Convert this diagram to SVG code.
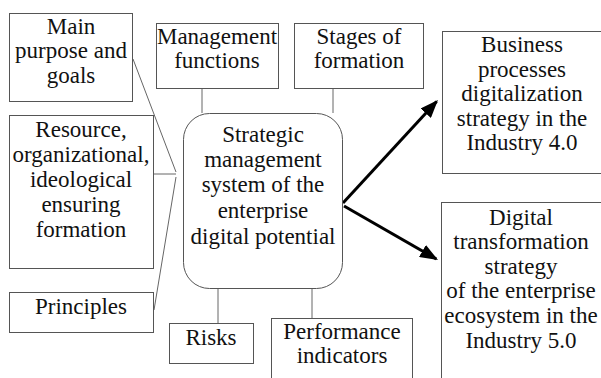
<svg xmlns="http://www.w3.org/2000/svg" width="601" height="378" viewBox="0 0 601 378">
  <style>
    .box { fill: #fff; stroke: #555; stroke-width: 1; }
    .link { fill: none; stroke: #666; stroke-width: 1; }
    .arrow { fill: none; stroke: #000; stroke-width: 3; }
    .lbl { fill: #111; text-anchor: middle; font-family: 'Liberation Serif', serif !important; font-size: 23px; }
  </style>
  <defs>
    <marker id="head" markerUnits="userSpaceOnUse" markerWidth="18" markerHeight="14" refX="16" refY="7" orient="auto">
      <path d="M0,0 L18,7 L0,14 z" fill="#000"/>
    </marker>
  </defs>
  <rect width="601" height="378" fill="#fff"/>

  <!-- connectors -->
  <g id="connectors">
    <line class="link" x1="133" y1="59" x2="176" y2="172"/>
    <line class="link" x1="153" y1="174" x2="176" y2="174"/>
    <line class="link" x1="154" y1="310" x2="176" y2="177"/>
    <line class="link" x1="202" y1="88" x2="202" y2="113"/>
    <line class="link" x1="333" y1="88" x2="333" y2="113"/>
    <line class="link" x1="218" y1="289" x2="218" y2="323"/>
    <line class="link" x1="312" y1="289" x2="312" y2="318"/>
    <line class="arrow" x1="343" y1="203" x2="436.6" y2="101.5" marker-end="url(#head)"/>
    <line class="arrow" x1="344" y1="206" x2="436.3" y2="259" marker-end="url(#head)"/>
  </g>

  <g id="main-purpose">
    <rect class="box" x="9.5" y="13.5" width="123" height="88"/>
    <text class="lbl" style="font-family:'Liberation Serif'" x="71" y="34">Main</text>
    <text class="lbl" style="font-family:'Liberation Serif'" x="71" y="58">purpose and</text>
    <text class="lbl" style="font-family:'Liberation Serif'" x="71" y="83">goals</text>
  </g>

  <g id="management-functions">
    <rect class="box" x="156.5" y="23.5" width="122" height="65"/>
    <text class="lbl" style="font-family:'Liberation Serif'" x="217" y="44">Management</text>
    <text class="lbl" style="font-family:'Liberation Serif'" x="217" y="68">functions</text>
  </g>

  <g id="stages">
    <rect class="box" x="294.5" y="23.5" width="129" height="65"/>
    <text class="lbl" style="font-family:'Liberation Serif'" x="359" y="44">Stages of</text>
    <text class="lbl" style="font-family:'Liberation Serif'" x="359" y="68">formation</text>
  </g>

  <g id="resource">
    <rect class="box" x="9.5" y="115.5" width="144" height="153"/>
    <text class="lbl" style="font-family:'Liberation Serif'" x="81" y="137">Resource,</text>
    <text class="lbl" style="font-family:'Liberation Serif'" x="81" y="162">organizational,</text>
    <text class="lbl" style="font-family:'Liberation Serif'" x="81" y="187">ideological</text>
    <text class="lbl" style="font-family:'Liberation Serif'" x="81" y="212">ensuring</text>
    <text class="lbl" style="font-family:'Liberation Serif'" x="81" y="237">formation</text>
  </g>

  <g id="principles">
    <rect class="box" x="9.5" y="292.5" width="144" height="40"/>
    <text class="lbl" style="font-family:'Liberation Serif'" x="81" y="314">Principles</text>
  </g>

  <g id="core">
    <rect class="box" x="183.5" y="113.5" width="159" height="175" rx="26" ry="26"/>
    <text class="lbl" style="font-family:'Liberation Serif'" x="263" y="142">Strategic</text>
    <text class="lbl" style="font-family:'Liberation Serif'" x="263" y="167">management</text>
    <text class="lbl" style="font-family:'Liberation Serif'" x="263" y="192">system of the</text>
    <text class="lbl" style="font-family:'Liberation Serif'" x="263" y="218">enterprise</text>
    <text class="lbl" style="font-family:'Liberation Serif'" x="263" y="244">digital potential</text>
  </g>

  <g id="risks">
    <rect class="box" x="169.5" y="323.5" width="84" height="40"/>
    <text class="lbl" style="font-family:'Liberation Serif'" x="211" y="345">Risks</text>
  </g>

  <g id="performance">
    <rect class="box" x="271.5" y="318.5" width="141" height="70"/>
    <text class="lbl" style="font-family:'Liberation Serif'" x="342" y="339">Performance</text>
    <text class="lbl" style="font-family:'Liberation Serif'" x="342" y="363">indicators</text>
  </g>

  <g id="business-strategy">
    <rect class="box" x="442.5" y="31.5" width="170" height="142"/>
    <text class="lbl" style="font-family:'Liberation Serif'" x="522" y="52">Business</text>
    <text class="lbl" style="font-family:'Liberation Serif'" x="522" y="77">processes</text>
    <text class="lbl" style="font-family:'Liberation Serif'" x="522" y="101">digitalization</text>
    <text class="lbl" style="font-family:'Liberation Serif'" x="522" y="126">strategy in the</text>
    <text class="lbl" style="font-family:'Liberation Serif'" x="522" y="150">Industry 4.0</text>
  </g>

  <g id="digital-strategy">
    <rect class="box" x="441.5" y="202.5" width="170" height="190"/>
    <text class="lbl" style="font-family:'Liberation Serif'" x="521" y="225">Digital</text>
    <text class="lbl" style="font-family:'Liberation Serif'" x="521" y="249">transformation</text>
    <text class="lbl" style="font-family:'Liberation Serif'" x="521" y="274">strategy</text>
    <text class="lbl" style="font-family:'Liberation Serif'" x="521" y="298">of the enterprise</text>
    <text class="lbl" style="font-family:'Liberation Serif'" x="521" y="323">ecosystem in the</text>
    <text class="lbl" style="font-family:'Liberation Serif'" x="521" y="348">Industry 5.0</text>
  </g>
</svg>
